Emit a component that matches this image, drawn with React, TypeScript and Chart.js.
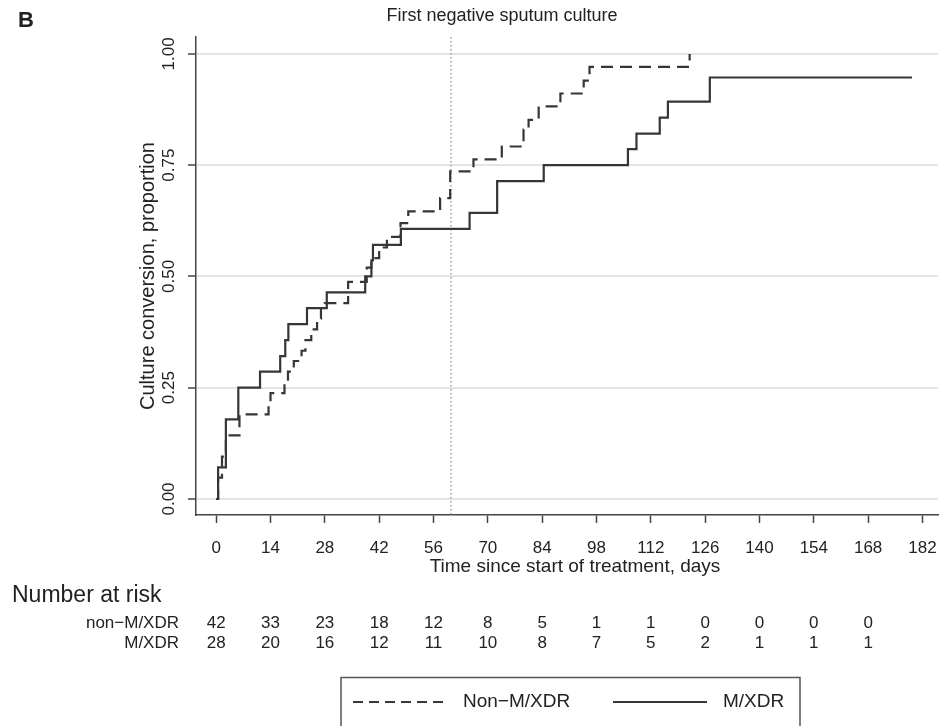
import React, { useEffect, useRef } from 'react';
import { Chart, registerables } from 'chart.js';

Chart.register(...registerables);

// ---- data ----
const xTicks = [0, 14, 28, 42, 56, 70, 84, 98, 112, 126, 140, 154, 168, 182];
const yTicks = [0, 0.25, 0.5, 0.75, 1];
const yTickLabels = ['0.00', '0.25', '0.50', '0.75', '1.00'];

const nonMxdrDays = [0, 0.5, 1.5, 2.5, 6, 13.5, 14, 17.6, 18.5, 20, 22, 23, 24.5, 26, 27, 28, 34, 38.8, 40, 42, 44, 47.5, 49.5, 57.7, 60.3, 66.3, 73.6, 79.2, 80.5, 83.1, 88.7, 94.7, 96.2, 122];
const nonMxdrProp = [0, 0.048, 0.095, 0.143, 0.19, 0.214, 0.238, 0.262, 0.286, 0.31, 0.333, 0.357, 0.381, 0.405, 0.429, 0.44, 0.488, 0.52, 0.541, 0.565, 0.589, 0.62, 0.646, 0.676, 0.736, 0.763, 0.792, 0.83, 0.852, 0.882, 0.911, 0.94, 0.971, 1.0];

const mxdrDays = [0, 0.5, 2.5, 5.7, 11.3, 16.5, 17.8, 18.6, 23.4, 28.5, 38.4, 40, 40.4, 47.6, 65.3, 72.4, 84.4, 106.1, 108.3, 114.3, 116.4, 127.2, 179.3];
const mxdrProp = [0, 0.071, 0.179, 0.25, 0.286, 0.321, 0.357, 0.393, 0.429, 0.464, 0.5, 0.536, 0.571, 0.607, 0.643, 0.714, 0.75, 0.786, 0.821, 0.857, 0.893, 0.947, 0.947];

const riskDays = [0, 14, 28, 42, 56, 70, 84, 98, 112, 126, 140, 154, 168];
const nonMxdrRisk = [42, 33, 23, 18, 12, 8, 5, 1, 1, 0, 0, 0, 0];
const mxdrRisk = [28, 20, 16, 12, 11, 10, 8, 7, 5, 2, 1, 1, 1];

const firstNegativeDay = 60.5;

const panelLabel = 'B';
const refLineLabel = 'First negative sputum culture';
const xTitle = 'Time since start of treatment, days';
const yTitle = 'Culture conversion, proportion';
const riskTitle = 'Number at risk';
const nonLabelRisk = 'non\u2212M/XDR';
const mxdrLabel = 'M/XDR';
const nonLabelLegend = 'Non\u2212M/XDR';

const FONT = '"Liberation Sans", Arial, Helvetica, sans-serif';
const INK = '#222222';
const LINE = '#363636';
const AXIS = '#454545';

function txt(
  ctx: CanvasRenderingContext2D,
  s: string,
  x: number,
  y: number,
  size: number,
  opts: { align?: CanvasTextAlign; rotate?: number; bold?: boolean } = {}
) {
  ctx.save();
  ctx.fillStyle = INK;
  ctx.font = `${opts.bold ? 'bold ' : ''}${size}px ${FONT}`;
  ctx.textAlign = opts.align || 'center';
  ctx.textBaseline = 'middle';
  ctx.translate(x, y);
  if (opts.rotate) ctx.rotate(opts.rotate);
  ctx.fillText(s, 0, 0);
  ctx.restore();
}

const decorPlugin = {
  id: 'decor',
  beforeDatasetsDraw(chart: any) {
    const { ctx, chartArea, scales } = chart;
    const px = scales.x.getPixelForValue(firstNegativeDay);
    ctx.save();
    ctx.strokeStyle = '#9c9c9c';
    ctx.lineWidth = 1.5;
    ctx.setLineDash([1.5, 2.5]);
    ctx.beginPath();
    ctx.moveTo(px, chartArea.top);
    ctx.lineTo(px, chartArea.bottom);
    ctx.stroke();
    ctx.restore();
  },
  afterDraw(chart: any) {
    const { ctx, chartArea: ca, scales } = chart;
    const x = scales.x;
    const y = scales.y;

    // panel letter and reference line label
    txt(ctx, panelLabel, 18, 21, 22, { align: 'left', bold: true });
    txt(ctx, refLineLabel, 502, 16, 18);

    // x tick labels
    xTicks.forEach((v) => txt(ctx, String(v), x.getPixelForValue(v), 548, 17));
    // y tick labels (rotated)
    yTicks.forEach((v, i) => txt(ctx, yTickLabels[i], 169, y.getPixelForValue(v), 17, { rotate: -Math.PI / 2 }));

    // axis titles
    txt(ctx, xTitle, 575, 567, 19);
    txt(ctx, yTitle, 148, (ca.top + ca.bottom) / 2, 20, { rotate: -Math.PI / 2 });

    // number at risk table
    txt(ctx, riskTitle, 12, 596, 23, { align: 'left' });
    txt(ctx, nonLabelRisk, 179, 623, 17, { align: 'right' });
    txt(ctx, mxdrLabel, 179, 643, 17, { align: 'right' });
    riskDays.forEach((d, i) => {
      const px = x.getPixelForValue(d);
      txt(ctx, String(nonMxdrRisk[i]), px, 623, 17);
      txt(ctx, String(mxdrRisk[i]), px, 643, 17);
    });

    // legend box
    ctx.save();
    ctx.strokeStyle = '#555';
    ctx.lineWidth = 1.5;
    ctx.strokeRect(341, 677.5, 459, 80);
    ctx.strokeStyle = LINE;
    ctx.lineWidth = 2;
    ctx.setLineDash([10, 6]);
    ctx.beginPath();
    ctx.moveTo(353, 702);
    ctx.lineTo(447, 702);
    ctx.stroke();
    ctx.setLineDash([]);
    ctx.beginPath();
    ctx.moveTo(613, 702);
    ctx.lineTo(707, 702);
    ctx.stroke();
    ctx.restore();
    txt(ctx, nonLabelLegend, 463, 702, 19, { align: 'left' });
    txt(ctx, mxdrLabel, 723, 702, 19, { align: 'left' });
  },
};

export default function App() {
  const ref = useRef<HTMLCanvasElement | null>(null);

  useEffect(() => {
    if (!ref.current) return;
    const chart = new Chart(ref.current, {
      type: 'line',
      data: {
        datasets: [
          {
            label: 'Non-M/XDR',
            data: nonMxdrDays.map((d, i) => ({ x: d, y: nonMxdrProp[i] })),
            borderColor: LINE,
            borderWidth: 2.2,
            borderDash: [12, 7],
            pointRadius: 0,
            stepped: 'before',
            fill: false,
          },
          {
            label: 'M/XDR',
            data: mxdrDays.map((d, i) => ({ x: d, y: mxdrProp[i] })),
            borderColor: LINE,
            borderWidth: 2.2,
            pointRadius: 0,
            stepped: 'before',
            fill: false,
          },
        ],
      },
      options: {
        responsive: false,
        animation: false,
        layout: { padding: { top: 37, right: 2, left: 0, bottom: 0 } },
        plugins: { legend: { display: false }, tooltip: { enabled: false } },
        scales: {
          x: {
            type: 'linear',
            min: -5.2,
            max: 186,
            afterBuildTicks: (s: any) => {
              s.ticks = xTicks.map((v) => ({ value: v }));
            },
            afterFit: (s: any) => {
              s.height = 211;
            },
            ticks: { display: false },
            grid: { drawOnChartArea: false, drawTicks: true, tickLength: 8, tickColor: AXIS, tickWidth: 1.5 },
            border: { display: true, color: AXIS, width: 1.5 },
          },
          y: {
            type: 'linear',
            min: -0.036,
            max: 1.038,
            afterBuildTicks: (s: any) => {
              s.ticks = yTicks.map((v) => ({ value: v }));
            },
            afterFit: (s: any) => {
              s.width = 196;
            },
            ticks: { display: false },
            grid: { color: '#e4e4e4', lineWidth: 2, drawTicks: true, tickLength: 8, tickColor: AXIS, tickWidth: 1.5 },
            border: { display: true, color: AXIS, width: 1.5 },
          },
        },
      },
      plugins: [decorPlugin],
    } as any);
    return () => chart.destroy();
  }, []);

  return (
    <div style={{ position: 'absolute', left: 0, top: 0, width: 940, height: 726, background: '#fff' }}>
      <canvas ref={ref} width={940} height={726} style={{ width: 940, height: 726, display: 'block' }} />
    </div>
  );
}
